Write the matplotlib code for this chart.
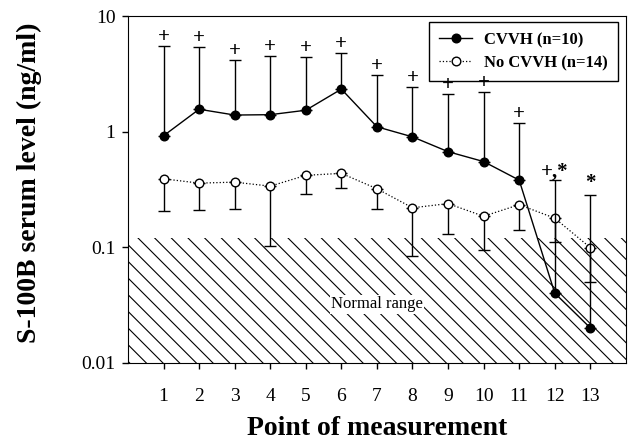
import matplotlib
matplotlib.use("Agg")
import matplotlib.pyplot as plt
from matplotlib.lines import Line2D
from matplotlib.ticker import FixedLocator, NullLocator

plt.rcParams['font.family'] = ['Liberation Serif', 'DejaVu Serif']
plt.rcParams['hatch.linewidth'] = 0.8

# data
points = [1, 2, 3, 4, 5, 6, 7, 8, 9, 10, 11, 12, 13]
cvvh = [0.92, 1.56, 1.39, 1.40, 1.53, 2.33, 1.10, 0.90, 0.67, 0.55, 0.38, 0.040, 0.020]
cvvh_upper = [5.55, 5.44, 4.2, 4.52, 4.46, 4.77, 3.1, 2.45, 2.12, 2.22, 1.18, 0.38, 0.28]
no_cvvh = [0.39, 0.358, 0.365, 0.337, 0.418, 0.435, 0.32, 0.219, 0.238, 0.185, 0.233, 0.178, 0.099]
no_cvvh_lower = [0.204, 0.208, 0.212, 0.103, 0.29, 0.322, 0.213, 0.084, 0.129, 0.094, 0.142, 0.11, 0.05]
marks = ['+'] * 11 + ['+,*', '*']
normal_limit = 0.12

fig = plt.figure(figsize=(6.29, 4.45), dpi=100)
ax = fig.add_axes([0.2035, 0.185, 0.7915, 0.779])

# normal range hatch
ax.fill_between([0, 14], 0.01, normal_limit, facecolor='white', edgecolor='black',
                hatch='\\\\', linewidth=0, zorder=1)
ax.text(7, 0.032, 'Normal range', ha='center', va='center', fontsize=12,
        bbox=dict(facecolor='white', edgecolor='none', pad=1), zorder=2)

# CVVH group, upper error bars only
err_up = [u - v for u, v in zip(cvvh_upper, cvvh)]
ax.errorbar(points, cvvh, yerr=[[0] * len(cvvh), err_up], color='black', lw=1,
            marker='o', ms=6.2, mfc='black', mec='black', capsize=4, elinewidth=1,
            capthick=1, zorder=4)

# no CVVH group, lower error bars only
err_dn = [v - l for v, l in zip(no_cvvh, no_cvvh_lower)]
ax.errorbar(points, no_cvvh, yerr=[err_dn, [0] * len(no_cvvh)], color='black', lw=0.9,
            ls=':', marker='o', ms=6.2, mfc='white', mec='black', mew=1, capsize=4,
            elinewidth=1, capthick=1, zorder=3)

# significance marks above the upper bars (kept on top of the legend box)
for x, top, m in zip(points, cvvh_upper, marks):
    dy = 6.5 if m != '*' else 9
    ax.annotate(m, (x, top), xytext=(0, dy), textcoords='offset points',
                ha='center', va='center', fontsize=15, fontweight='bold', zorder=6)

ax.set_yscale('log')
ax.set_ylim(0.01, 10)
ax.set_xlim(0, 14)
ax.yaxis.set_major_locator(FixedLocator([0.01, 0.1, 1, 10]))
ax.yaxis.set_minor_locator(NullLocator())
ax.set_yticklabels(['0.01', '0.1', '1', '10'])
ax.set_xticks(points)
ax.tick_params(direction='out', length=4, width=1, labelsize=14, pad=5)
ax.tick_params(axis='x', pad=14)

ax.set_xlabel('Point of measurement', fontsize=20, fontweight='bold', labelpad=8)
ax.set_ylabel('S-100B serum level (ng/ml)', fontsize=20, fontweight='bold')
ax.yaxis.set_label_coords(-0.173, 0.52)

handles = [
    Line2D([], [], color='black', lw=1, marker='o', ms=6.2, mfc='black'),
    Line2D([], [], color='black', lw=0.9, ls=':', marker='o', ms=6.2, mfc='white'),
]
leg = ax.legend(handles, ['CVVH (n=10)', 'No CVVH (n=14)'], loc='upper right',
                bbox_to_anchor=(0.984, 0.983), borderaxespad=0, fancybox=False,
                edgecolor='black', framealpha=1, handlelength=2.0, handletextpad=0.7,
                borderpad=0.6, labelspacing=0.42,
                prop={'size': 12, 'weight': 'bold'})
leg.get_frame().set_linewidth(1)
leg.set_zorder(5)

fig.savefig('out.png', dpi=100)
